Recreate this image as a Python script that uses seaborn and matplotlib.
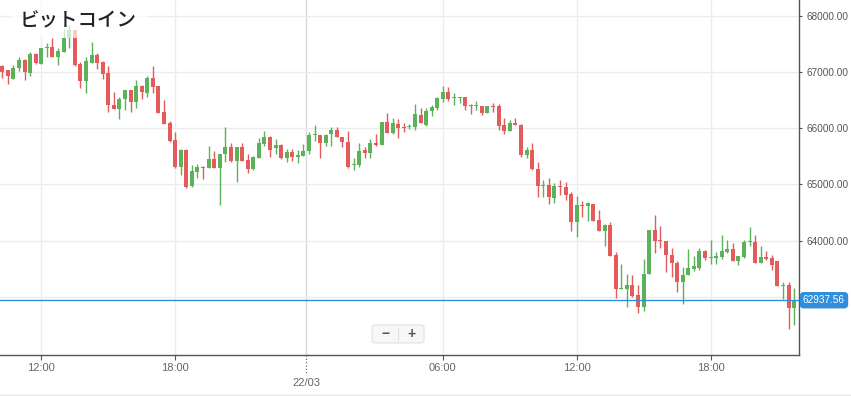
import matplotlib
matplotlib.use("Agg")  # no display in the sandbox
import matplotlib.pyplot as plt
from matplotlib.patches import Rectangle, FancyBboxPatch
from matplotlib.lines import Line2D
import seaborn as sns
import numpy as np
import pandas as pd

# 15 minute candles
opens = [
    67113, 67030, 66875, 67071, 67208, 66982, 67310, 67149, 67423, 67440,
    67268, 67357, 67595, 67744, 67149, 66839, 67161, 67298, 67179, 66982,
    66417, 66339, 66518, 66673, 66464, 66756, 66632, 66887, 66751, 66288,
    66098, 65789, 65314, 65611, 64970, 65225, 65297, 65285, 65445, 65285,
    65534, 65671, 65415, 65659, 65433, 65267, 65475, 65724, 65837, 65653,
    65706, 65469, 65581, 65481, 65510, 65587, 65876, 65876, 65728, 65888,
    65971, 65847, 65746, 65339, 65339, 65611, 65552, 65729, 65705, 66100,
    65906, 66071, 66012, 66012, 66012, 66236, 66059, 66296, 66355, 66515,
    66645, 66539, 66533, 66556, 66402, 66397, 66397, 66272, 66397, 66385,
    66053, 65941, 66083, 66059, 65526, 65615, 65272, 64976, 64988, 64751,
    64964, 64959, 64824, 64324, 64630, 64606, 64647, 64365, 64177, 64283,
    63736, 63130, 63136, 63207, 63030, 62824, 63412, 64194, 64000, 63983,
    63748, 63606, 63265, 63383, 63489, 63518, 63806, 63694, 63694, 63706,
    63794, 63853, 63635, 63706, 63982, 63982, 63600, 63706, 63688, 63630,
    63188, 63206, 62806,
]
highs = [
    67120, 67030, 67131, 67268, 67238, 67351, 67339, 67417, 67506, 67595,
    67417, 67768, 67833, 67744, 67179, 67268, 67524, 67339, 67190, 67101,
    66643, 66554, 66685, 66673, 66851, 66763, 66929, 67107, 66751, 66496,
    66128, 65932, 65635, 65635, 65344, 65356, 65326, 65683, 65593, 65546,
    66021, 65736, 65659, 65736, 65546, 65504, 65819, 65949, 65855, 65801,
    65717, 65622, 65628, 65616, 65717, 65923, 66059, 65882, 65894, 66012,
    66024, 65847, 65953, 65463, 65729, 65670, 65805, 65894, 66112, 66260,
    66177, 66159, 66088, 66071, 66425, 66354, 66355, 66414, 66545, 66752,
    66734, 66616, 66556, 66556, 66426, 66474, 66397, 66397, 66438, 66426,
    66178, 66148, 66178, 66071, 65668, 65728, 65402, 65083, 65112, 65017,
    65083, 65047, 64865, 64794, 64706, 64677, 64647, 64541, 64294, 64336,
    63795, 63589, 63412, 63383, 63207, 63665, 64194, 64453, 64265, 63983,
    63871, 63630, 63530, 63842, 63730, 63871, 63824, 64012, 63794, 64106,
    64012, 63953, 63718, 64012, 64247, 64100, 63894, 63806, 63747, 63630,
    63265, 63265, 63159,
]
lows = [
    66899, 66792, 66875, 67018, 66851, 66923, 67137, 67149, 67268, 67268,
    67119, 67357, 67417, 67101, 66720, 66625, 67161, 67060, 66869, 66286,
    66339, 66167, 66315, 66286, 66363, 66518, 66561, 66632, 66276, 66080,
    65760, 65285, 65166, 64941, 64952, 65119, 65089, 65285, 65285, 64632,
    65403, 65403, 65047, 65415, 65208, 65255, 65475, 65682, 65487, 65546,
    65451, 65389, 65410, 65372, 65510, 65540, 65776, 65463, 65687, 65681,
    65835, 65670, 65292, 65251, 65316, 65469, 65469, 65687, 65705, 65906,
    65894, 65823, 65923, 65982, 65959, 66088, 66041, 66219, 66320, 66456,
    66485, 66408, 66438, 66320, 66249, 66320, 66237, 66260, 66278, 65970,
    65893, 65941, 66053, 65491, 65461, 65260, 64780, 64780, 64650, 64662,
    64816, 64718, 64177, 64059, 64424, 64341, 64341, 64165, 63895, 63718,
    62971, 63130, 62824, 62989, 62718, 62754, 63412, 63777, 63871, 63442,
    63342, 63089, 62871, 63383, 63454, 63471, 63647, 63588, 63577, 63677,
    63782, 63630, 63559, 63694, 63894, 63600, 63600, 63659, 63471, 63188,
    62953, 62424, 62500,
]
closes = [
    67006, 66923, 67071, 67220, 66994, 67315, 67161, 67417, 67429, 67268,
    67369, 67595, 67744, 67119, 66839, 67190, 67298, 67161, 66958, 66417,
    66339, 66524, 66673, 66464, 66756, 66637, 66887, 66739, 66276, 66080,
    65771, 65314, 65611, 64958, 65237, 65309, 65285, 65445, 65297, 65534,
    65671, 65415, 65659, 65415, 65267, 65487, 65736, 65837, 65605, 65706,
    65475, 65581, 65481, 65528, 65599, 65882, 65888, 65728, 65876, 65971,
    65835, 65746, 65316, 65357, 65599, 65552, 65729, 65705, 66100, 65906,
    66083, 66000, 66000, 66030, 66248, 66088, 66308, 66379, 66533, 66651,
    66515, 66545, 66556, 66391, 66391, 66408, 66272, 66397, 66379, 66030,
    65953, 66083, 66053, 65526, 65615, 65272, 64964, 64994, 64769, 64964,
    64946, 64812, 64324, 64635, 64612, 64659, 64353, 64177, 64283, 63718,
    63136, 63148, 63207, 63013, 62824, 63412, 64194, 63989, 63983, 63748,
    63606, 63254, 63383, 63512, 63542, 63812, 63694, 63706, 63718, 63806,
    63853, 63635, 63718, 63982, 64000, 63600, 63706, 63676, 63559, 63188,
    63206, 62806, 62937.56,
]
start_time = "2024-03-21 10:15"
last_price = 62937.56
price_ticks = [63000, 64000, 65000, 66000, 67000, 68000]
title = "ビットコイン"

UP = "#5cb25a"
DOWN = "#e35b5b"
BLUE = "#2f8fdd"
AXIS = "#555555"

sns.set_theme(style="white")
plt.rcParams["font.family"] = ["Liberation Sans", "DejaVu Sans"]

df = pd.DataFrame({"open": opens, "high": highs, "low": lows, "close": closes})
df["time"] = pd.date_range(start_time, periods=len(df), freq="15min")
df["x"] = np.arange(len(df))
colors = np.where(df["close"] >= df["open"], UP, DOWN)

fig = plt.figure(figsize=(8.51, 3.96), dpi=100)
ax = fig.add_axes([0, 41 / 396, 799 / 851, 355 / 396])

# wicks + bodies
ax.vlines(df["x"], df["low"], df["high"], colors=colors, lw=1, zorder=3)
body_lo = np.minimum(df["open"], df["close"])
body_h = np.maximum((df["close"] - df["open"]).abs(), 18)
ax.bar(df["x"], body_h, bottom=body_lo, width=0.72, color=colors, linewidth=0, zorder=3)

ax.set_xlim(-0.41, 142.86)
ax.set_ylim(61963, 68279)

# time axis: label every 6 hours, midnight shown as date
hours = df["time"].dt.hour
on_grid = (df["time"].dt.minute == 0) & (hours % 6 == 0)
tick_rows = df[on_grid & (hours != 0)]
midnight = df[on_grid & (hours == 0)].iloc[0]
ax.set_xticks(tick_rows["x"], tick_rows["time"].dt.strftime("%H:%M"))
day_x = midnight["x"] - 0.5
ax.axvline(day_x, color="#d9d9d9", lw=1, zorder=0.5)
ax.plot([day_x, day_x], [0, -0.05], transform=ax.get_xaxis_transform(),
        color=AXIS, lw=0.8, ls=(0, (1, 2)), clip_on=False)
ax.text(day_x, -0.079, midnight["time"].strftime("%d/%m"), transform=ax.get_xaxis_transform(),
        ha="center", va="center", fontsize=8, color="#666666")

# price axis; the label under the last-price tag is hidden, as in the original
ax.yaxis.tick_right()
price_labels = ["" if abs(v - last_price) < 300 else f"{v:.2f}" for v in price_ticks]
ax.set_yticks(price_ticks, price_labels)
ax.grid(True, color="#ececec", lw=1)
ax.set_axisbelow(True)

for side in ["top", "left"]:
    ax.spines[side].set_visible(False)
for side in ["right", "bottom"]:
    ax.spines[side].set_color(AXIS)
    ax.spines[side].set_linewidth(1)

ax.tick_params(axis="y", right=True, left=False, length=2.5, width=0.8, color=AXIS,
               pad=3, labelsize=7.2, labelcolor="#555555")
ax.tick_params(axis="x", bottom=True, length=3.6, width=0.8, color=AXIS,
               pad=2.2, labelsize=8, labelcolor="#666666")

# last price line and tag
ax.axhline(last_price, color=BLUE, lw=1, zorder=4)
ax.text(1.005, last_price, f"{last_price:.2f}", transform=ax.get_yaxis_transform(),
        ha="left", va="center", fontsize=7.2, color="white", zorder=10, clip_on=False,
        bbox=dict(boxstyle="round,pad=0.25,rounding_size=0.3", fc=BLUE, ec=BLUE))

# title over a translucent white patch
ax.add_patch(Rectangle((0.012, 0.893), 0.173, 0.107, transform=ax.transAxes,
                       fc="white", ec="none", alpha=0.7, zorder=5))
ax.text(0.025, 0.94, title, transform=ax.transAxes, ha="left", va="center",
        fontsize=14, color="#222222", zorder=6,
        family=["Noto Sans CJK JP", "DejaVu Sans"], fontweight="medium")

# zoom buttons
ax.add_patch(FancyBboxPatch((0.4656, 0.034), 0.0651, 0.0507, transform=ax.transAxes,
                            boxstyle="round,pad=0,rounding_size=0.006",
                            fc="#f7f7f7", ec="#e2e2e2", lw=0.8, zorder=6))
ax.plot([0.498, 0.498], [0.042, 0.077], transform=ax.transAxes, color="#e2e2e2", lw=0.8, zorder=7)
ax.text(0.4819, 0.059, "−", transform=ax.transAxes, ha="center", va="center",
        fontsize=10, color="#555555", fontweight="bold", zorder=7)
ax.text(0.5144, 0.059, "+", transform=ax.transAxes, ha="center", va="center",
        fontsize=10, color="#555555", fontweight="bold", zorder=7)

fig.add_artist(Line2D([0, 1], [0.0015, 0.0015], transform=fig.transFigure, color="#e6e6e6", lw=1))

fig.savefig("out.png", dpi=100, facecolor="white")
plt.close(fig)
